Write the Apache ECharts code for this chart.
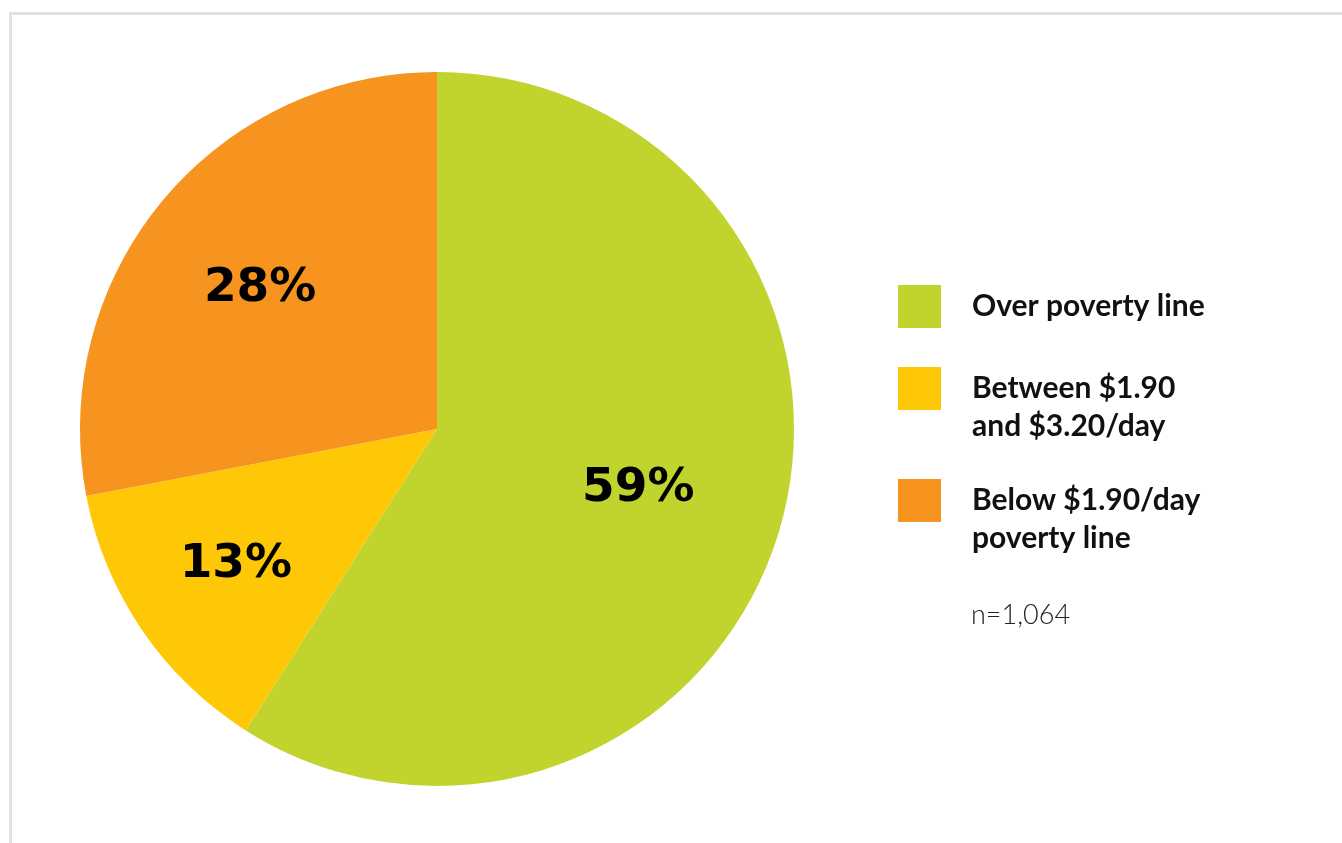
<!DOCTYPE html>
<html>
<head>
<meta charset="utf-8">
<script src="https://cdn.jsdelivr.net/npm/echarts@6/dist/echarts.min.js"></script>
<style>
  html, body { margin: 0; padding: 0; background: #fff; }
  #frame {
    position: absolute; left: 9px; top: 12px; right: 0; bottom: 0;
    border-left: 3px solid #dde1e5; border-top: 3px solid #dde1e5;
  }
  #chart { position: absolute; left: 0; top: 0; width: 1342px; height: 843px; }
</style>
</head>
<body>
<div id="frame"></div>
<div id="chart"></div>
<script>
// share of respondents by poverty line
const categories = ['Over poverty line', 'Between $1.90\nand $3.20/day', 'Below $1.90/day\npoverty line']
const shares = [59, 13, 28]
const colors = ['#c0d42d', '#fec807', '#f7931f']
const sampleNote = 'n=1,064'

const myChart = echarts.init(document.getElementById('chart'))

// labels sit a bit further out than the sector middle
const labelOffsets = [[27, 9], [-51, 34], [-37, -25]]

const pieData = categories.map((name, i) => ({
    name: name,
    value: shares[i],
    itemStyle: { color: colors[i] },
    label: { offset: labelOffsets[i] }
}))

// one legend per item; two-line names get an empty first line
// so the first real line sits level with the colour box
const legendTops = [285, 331.5, 443.5]
const legends = categories.map((name, i) => {
    const twoLines = name.indexOf('\n') > -1
    return {
        orient: 'vertical',
        left: 898,
        top: legendTops[i],
        padding: 0,
        itemWidth: 43,
        itemHeight: 43,
        icon: 'rect',
        selectedMode: false,
        formatter: n => (twoLines ? '\n' + n : n),
        data: [{ name: name, itemStyle: { color: colors[i] } }],
        textStyle: {
            fontFamily: 'Lato',
            fontWeight: 'bold',
            fontSize: 30,
            lineHeight: 38,
            color: '#111',
            padding: [0, 0, 0, 26]
        }
    }
})

myChart.setOption({
    animation: false,
    title: {
        text: sampleNote,
        left: 971,
        top: 602,
        padding: 0,
        textStyle: {
            fontFamily: 'Lato',
            fontWeight: 300,
            fontSize: 27,
            color: '#222'
        }
    },
    legend: legends,
    series: [{
        type: 'pie',
        center: [437, 429],
        radius: 357,
        startAngle: 90,
        clockwise: true,
        silent: true,
        itemStyle: { borderWidth: 0 },
        label: {
            show: true,
            position: 'inside',
            formatter: '{c}%',
            fontFamily: 'DejaVu Sans',
            fontWeight: 'bold',
            fontSize: 47,
            color: '#000'
        },
        labelLine: { show: false },
        data: pieData
    }]
})
</script>
</body>
</html>
